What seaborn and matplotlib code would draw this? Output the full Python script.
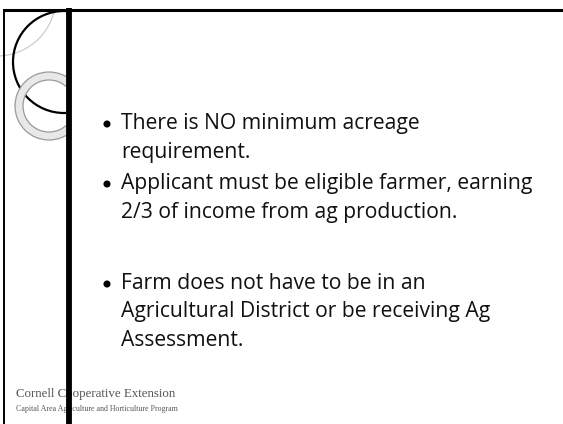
import numpy as np
import pandas as pd
import matplotlib
matplotlib.use("Agg")
import matplotlib.pyplot as plt
from matplotlib.patches import Circle, Wedge, Rectangle
import seaborn as sns

sns.set_theme(style="white")
plt.rcParams['font.family'] = ['Open Sans', 'DejaVu Sans']

# slide text
bullet_lines = [
    ["There is NO minimum acreage", "requirement."],
    ["Applicant must be eligible farmer, earning", "2/3 of income from ag production."],
    ["Farm does not have to be in an", "Agricultural District or be receiving Ag", "Assessment."],
]
bullet_baselines = [[129, 158], [189, 218], [289, 317, 346]]
footer_title = "Cornell Cooperative Extension"
footer_sub = "Capital Area Agriculture and Horticulture Program"

W, H = 563, 424
fig = plt.figure(figsize=(W / 100, H / 100), dpi=100)
ax = fig.add_axes([0, 0, 1, 1])

# clip region for the decorative circles (left strip)
clip = Rectangle((0, 9), 66, H, transform=ax.transData)

c1 = Circle((-3, -3), 59, fill=False, lw=0.8, ec='#c8c8c8', zorder=2)
c2 = Circle((64, 62), 51, fill=False, lw=1.6, ec='black', zorder=3)
ring = Wedge((49, 106), 34, 0, 360, width=8, fc='#e8e8e8', ec='#9a9a9a', lw=0.9, zorder=4)
for p in (c1, c2, ring):
    ax.add_patch(p)
    p.set_clip_path(clip)

# frame lines
ax.plot([3, W], [9.5, 9.5], color='black', lw=2.2, zorder=6, solid_capstyle='butt')
ax.plot([4, 4], [9, H], color='black', lw=1.4, zorder=6, solid_capstyle='butt')
ax.plot([69, 69], [8, H], color='black', lw=4.2, zorder=6, solid_capstyle='butt')

# bullet dots
dots = pd.DataFrame({"x": [107] * len(bullet_baselines),
                     "y": [ys[0] - 5 for ys in bullet_baselines]})
sns.scatterplot(data=dots, x="x", y="y", s=26, color='black', edgecolor='none', ax=ax, zorder=5)

for lines, ys in zip(bullet_lines, bullet_baselines):
    for txt, y in zip(lines, ys):
        ax.text(121, y, txt, fontsize=15.2, ha='left', va='baseline', color='#111111')

# footer
ax.text(16, 397, footer_title, fontsize=9.3, family=['Liberation Serif'],
        ha='left', va='baseline', color='#555555', zorder=5)
ax.text(16, 411, footer_sub, fontsize=5.7, family=['Liberation Serif'],
        ha='left', va='baseline', color='#555555', zorder=5)

ax.set_xlim(0, W)
ax.set_ylim(H, 0)
ax.axis('off')

fig.savefig("out.png", dpi=100)
